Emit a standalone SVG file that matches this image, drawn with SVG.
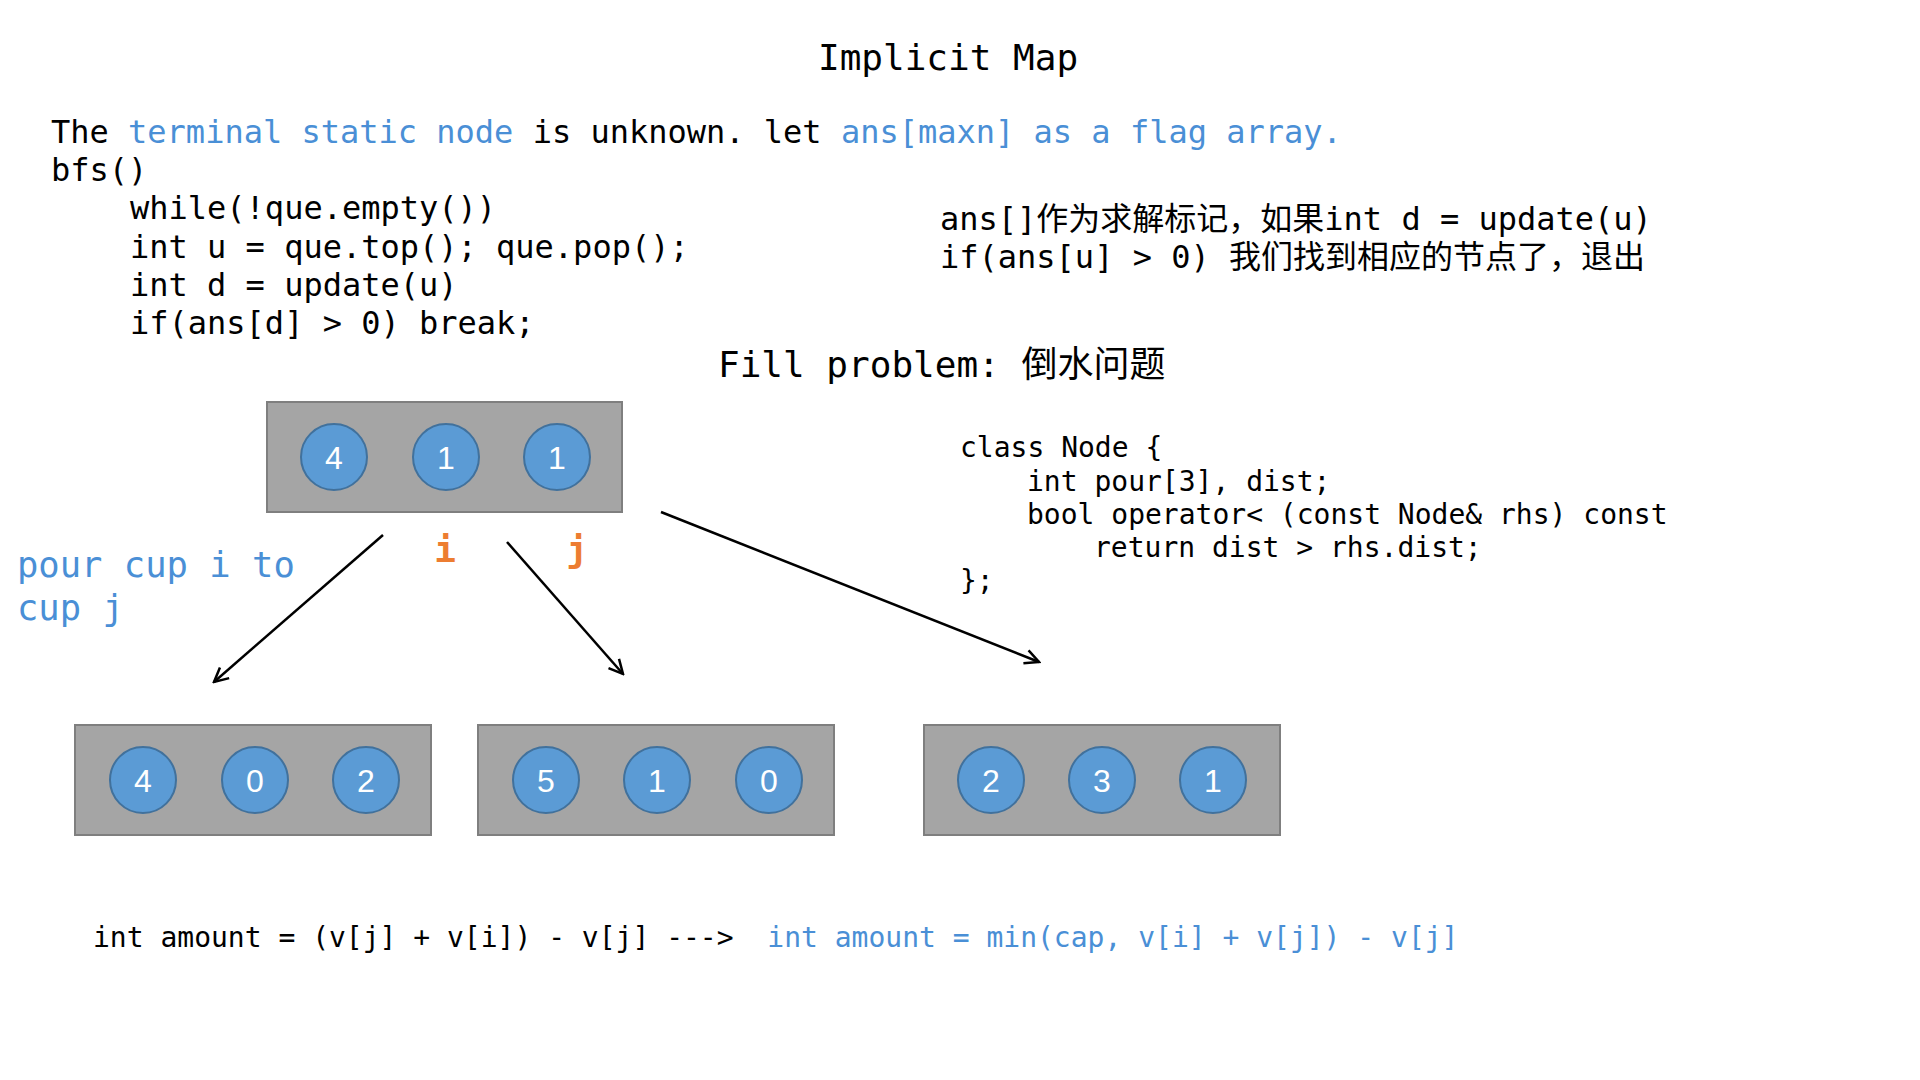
<svg xmlns="http://www.w3.org/2000/svg" width="1920" height="1080" viewBox="0 0 1920 1080">
<style>
.mono{font-family:"DejaVu Sans Mono","Noto Sans CJK SC",monospace;fill:#000}
.blue{fill:#4A8FD6}
.orange{fill:#ED7D31;font-weight:bold}
.box{fill:#A5A5A5;stroke:#7F7F7F;stroke-width:2}
.cup{fill:#5B9BD5;stroke:#41719C;stroke-width:2}
.num{font-family:"Liberation Sans",Arial,sans-serif;font-size:32px;fill:#fff;text-anchor:middle}
.edge{stroke:#000;stroke-width:2.5;fill:none;marker-end:url(#arrow)}
</style>
<defs>
<marker id="arrow" markerUnits="userSpaceOnUse" markerWidth="20" markerHeight="20" viewBox="0 0 20 20" refX="18" refY="10" orient="auto">
<path d="M4,3 L18,10 L4,17" fill="none" stroke="#000" stroke-width="2.5"/>
</marker>
</defs>
<rect width="1920" height="1080" fill="#fff"/>

<g id="title">
<text class="mono" x="818" y="70" font-size="36">Implicit Map</text>
</g>

<g id="bfs-code" class="mono" font-size="32">
<text class="mono" x="51" y="143">The <tspan class="blue">terminal static node</tspan> is unknown. let <tspan class="blue">ans[maxn] as a flag array.</tspan></text>
<text class="mono" x="51" y="181">bfs()</text>
<text class="mono" x="130" y="219">while(!que.empty())</text>
<text class="mono" x="130" y="258">int u = que.top(); que.pop();</text>
<text class="mono" x="130" y="296">int d = update(u)</text>
<text class="mono" x="130" y="334">if(ans[d] &gt; 0) break;</text>
</g>

<g id="note-cn">
<text class="mono" x="940" y="230" font-size="32">ans[]作为求解标记，如果int d = update(u)</text>
<text class="mono" x="940" y="268" font-size="32">if(ans[u] &gt; 0) 我们找到相应的节点了，退出</text>
</g>

<g id="fill-title">
<text class="mono" x="718" y="377" font-size="36">Fill problem: 倒水问题</text>
</g>

<g id="class-code">
<text class="mono" x="960" y="457" font-size="28">class Node {</text>
<text class="mono" x="1027" y="491" font-size="28">int pour[3], dist;</text>
<text class="mono" x="1027" y="524" font-size="28">bool operator&lt; (const Node&amp; rhs) const</text>
<text class="mono" x="1094" y="557" font-size="28">return dist &gt; rhs.dist;</text>
<text class="mono" x="960" y="590" font-size="28">};</text>
</g>

<g id="node-root">
<rect class="box" x="267" y="402" width="355" height="110"/>
<circle class="cup" cx="334" cy="457" r="33"/>
<circle class="cup" cx="446" cy="457" r="33"/>
<circle class="cup" cx="557" cy="457" r="33"/>
<text class="num" x="334" y="469">4</text>
<text class="num" x="446" y="469">1</text>
<text class="num" x="557" y="469">1</text>
</g>

<g id="label-i">
<text class="mono orange" x="445" y="562" font-size="36" text-anchor="middle">i</text>
</g>
<g id="label-j">
<text class="mono orange" x="577" y="562" font-size="36" text-anchor="middle">j</text>
</g>

<g id="label-pour">
<text class="mono blue" x="17" y="577" font-size="35.5">pour cup i to</text>
<text class="mono blue" x="17" y="620" font-size="35.5">cup j</text>
</g>

<g id="connectors">
<line class="edge" x1="383" y1="535" x2="214" y2="682"/>
<line class="edge" x1="507" y1="542" x2="623" y2="674"/>
<line class="edge" x1="661" y1="512" x2="1039" y2="662"/>
</g>

<g id="node-402">
<rect class="box" x="75" y="725" width="356" height="110"/>
<circle class="cup" cx="143" cy="780" r="33"/>
<circle class="cup" cx="255" cy="780" r="33"/>
<circle class="cup" cx="366" cy="780" r="33"/>
<text class="num" x="143" y="792">4</text>
<text class="num" x="255" y="792">0</text>
<text class="num" x="366" y="792">2</text>
</g>

<g id="node-510">
<rect class="box" x="478" y="725" width="356" height="110"/>
<circle class="cup" cx="546" cy="780" r="33"/>
<circle class="cup" cx="657" cy="780" r="33"/>
<circle class="cup" cx="769" cy="780" r="33"/>
<text class="num" x="546" y="792">5</text>
<text class="num" x="657" y="792">1</text>
<text class="num" x="769" y="792">0</text>
</g>

<g id="node-231">
<rect class="box" x="924" y="725" width="356" height="110"/>
<circle class="cup" cx="991" cy="780" r="33"/>
<circle class="cup" cx="1102" cy="780" r="33"/>
<circle class="cup" cx="1213" cy="780" r="33"/>
<text class="num" x="991" y="792">2</text>
<text class="num" x="1102" y="792">3</text>
<text class="num" x="1213" y="792">1</text>
</g>

<g id="amount-formula">
<text class="mono" x="93" y="947" font-size="28" xml:space="preserve">int amount = (v[j] + v[i]) - v[j] --->  <tspan class="blue">int amount = min(cap, v[i] + v[j]) - v[j]</tspan></text>
</g>
</svg>
